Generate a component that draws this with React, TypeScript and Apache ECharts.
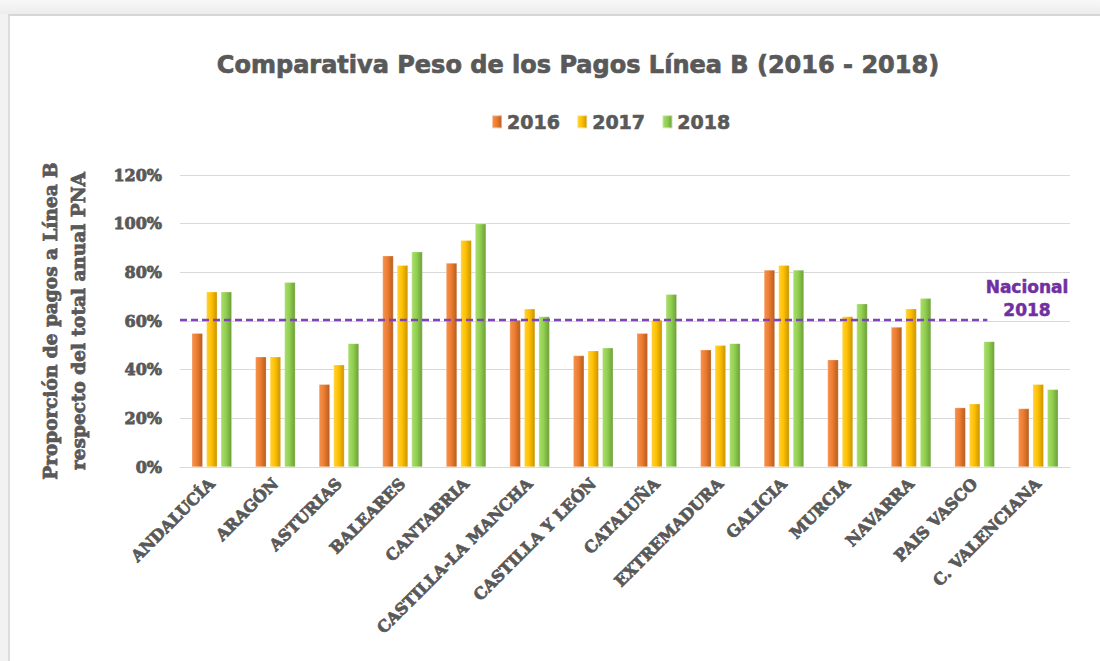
import React, { useEffect, useRef } from "react";
import * as echarts from "echarts";

const TITLE = "Comparativa Peso de los Pagos Línea B (2016 - 2018)";
const Y_NAME = "Proporción de pagos a Línea B\nrespecto del total anual PNA";
const CATEGORIES = [
  "ANDALUCÍA", "ARAGÓN", "ASTURIAS", "BALEARES", "CANTABRIA",
  "CASTILLA-LA MANCHA", "CASTILLA Y LEÓN", "CATALUÑA", "EXTREMADURA",
  "GALICIA", "MURCIA", "NAVARRA", "PAIS VASCO", "C. VALENCIANA",
];
const SERIES_NAMES = ["2016", "2017", "2018"];
const V2016 = [55, 45.3, 34, 86.8, 83.8, 60.4, 45.8, 55, 48.2, 81, 44.1, 57.5, 24.4, 24];
const V2017 = [72, 45.3, 42, 82.9, 93.2, 65, 47.8, 60.4, 50, 82.9, 61.8, 65, 26, 34];
const V2018 = [72, 75.9, 50.8, 88.5, 100, 61.8, 49, 71, 50.8, 81, 67.1, 69.3, 51.6, 31.9];
const NATIONAL_2018 = 60.4;
const NATIONAL_LABEL = ["Nacional", "2018"];
// extent of the national line, in category-band units from the left of the plot
const NATIONAL_LINE_SPAN = [0, 12.7];
const Y_TICKS = { min: 0, max: 120, interval: 20 };

const COLORS = [
  ["#F6924E", "#ED7D31", "#B65C1E"],
  ["#FFD33A", "#FFC000", "#C89400"],
  ["#A9DE6E", "#92D050", "#6C9E39"],
];

function grad(c: string[]) {
  return new echarts.graphic.LinearGradient(0, 0, 1, 0, [
    { offset: 0, color: c[0] },
    { offset: 0.45, color: c[1] },
    { offset: 1, color: c[2] },
  ]);
}

export default function App() {
  const ref = useRef<HTMLDivElement>(null);
  useEffect(() => {
    if (!ref.current) return;
    const chart = echarts.init(ref.current, undefined, { renderer: "svg" });
    const serif = "'DejaVu Serif', serif";
    const sans = "'DejaVu Sans', sans-serif";
    const gray = "#595959";
    const values = [V2016, V2017, V2018];
    chart.setOption({
      animation: false,
      grid: { left: 180, right: 30, top: 175, bottom: 194 },
      legend: {
        data: SERIES_NAMES,
        left: 486,
        top: 107,
        icon: "rect",
        itemWidth: 10,
        itemHeight: 13,
        itemGap: 16,
        textStyle: {
          fontFamily: sans, fontWeight: "bold", fontSize: 19, color: gray,
          textBorderColor: gray, textBorderWidth: 0.6,
        },
      },
      graphic: [
        {
          type: "text",
          x: 578,
          y: 65,
          style: {
            text: TITLE,
            fontFamily: sans,
            fontWeight: "bold",
            fontSize: 24,
            fill: gray,
            stroke: gray,
            lineWidth: 0.7,
            textAlign: "center",
            textVerticalAlign: "middle",
          },
        },
        {
          type: "text",
          x: 1027,
          y: 298,
          style: {
            text: NATIONAL_LABEL.join("\n"),
            fontFamily: sans,
            fontWeight: "bold",
            fontSize: 17,
            lineHeight: 23,
            fill: "#7030A0",
            stroke: "#7030A0",
            lineWidth: 0.5,
            textAlign: "center",
            textVerticalAlign: "middle",
          },
        },
      ],
      xAxis: [
        {
          type: "category",
          data: CATEGORIES,
          axisLine: { lineStyle: { color: "#d9d9d9", width: 1 } },
          axisTick: { show: false },
          axisLabel: {
            interval: 0,
            rotate: 45,
            margin: 14,
            fontFamily: serif,
            fontWeight: "bold",
            fontSize: 16,
            color: gray,
            textBorderColor: gray,
            textBorderWidth: 0.8,
          },
        },
        {
          type: "value",
          min: 0,
          max: CATEGORIES.length,
          show: false,
        },
      ],
      yAxis: {
        type: "value",
        min: Y_TICKS.min,
        max: Y_TICKS.max,
        interval: Y_TICKS.interval,
        axisLine: { show: false },
        axisTick: { show: false },
        splitLine: { lineStyle: { color: "#d9d9d9", width: 1 } },
        axisLabel: {
          formatter: "{value}%",
          margin: 18,
          fontFamily: serif,
          fontWeight: "bold",
          fontSize: 16,
          color: gray,
          textBorderColor: gray,
          textBorderWidth: 0.8,
        },
        name: Y_NAME,
        nameLocation: "middle",
        nameGap: 88,
        nameTextStyle: {
          fontFamily: serif,
          fontWeight: "bold",
          fontSize: 18.5,
          lineHeight: 28,
          color: gray,
          textBorderColor: gray,
          textBorderWidth: 0.8,
        },
      },
      series: [
        ...SERIES_NAMES.map((name, i) => ({
          name,
          type: "bar",
          data: values[i],
          barWidth: 11,
          barGap: "32%",
          itemStyle: {
            color: grad(COLORS[i]),
            borderColor: "rgba(255,255,255,0.5)",
            borderWidth: 0.5,
          },
        })),
        {
          name: "Nacional 2018",
          type: "line",
          xAxisIndex: 1,
          data: NATIONAL_LINE_SPAN.map((x) => [x, NATIONAL_2018]),
          symbol: "none",
          lineStyle: { color: "#7E44B8", width: 2.5, type: [7, 4] },
          z: 5,
        },
      ],
    });
    return () => chart.dispose();
  }, []);

  return (
    <div style={{ position: "absolute", left: 0, top: 0, width: 1100, height: 661, background: "#f2f2f2", overflow: "hidden" }}>
      <div style={{ position: "absolute", left: 0, top: 0, width: 1100, height: 14, background: "linear-gradient(#f8f8f8, #ececec)" }} />
      <div
        style={{
          position: "absolute",
          left: 8,
          top: 14,
          width: 1092,
          height: 647,
          background: "#fff",
          borderTop: "2px solid #d6d6d6",
          borderLeft: "2px solid #dcdcdc",
          boxSizing: "border-box",
        }}
      />
      <div ref={ref} style={{ position: "absolute", left: 0, top: 0, width: 1100, height: 661 }} />
    </div>
  );
}
